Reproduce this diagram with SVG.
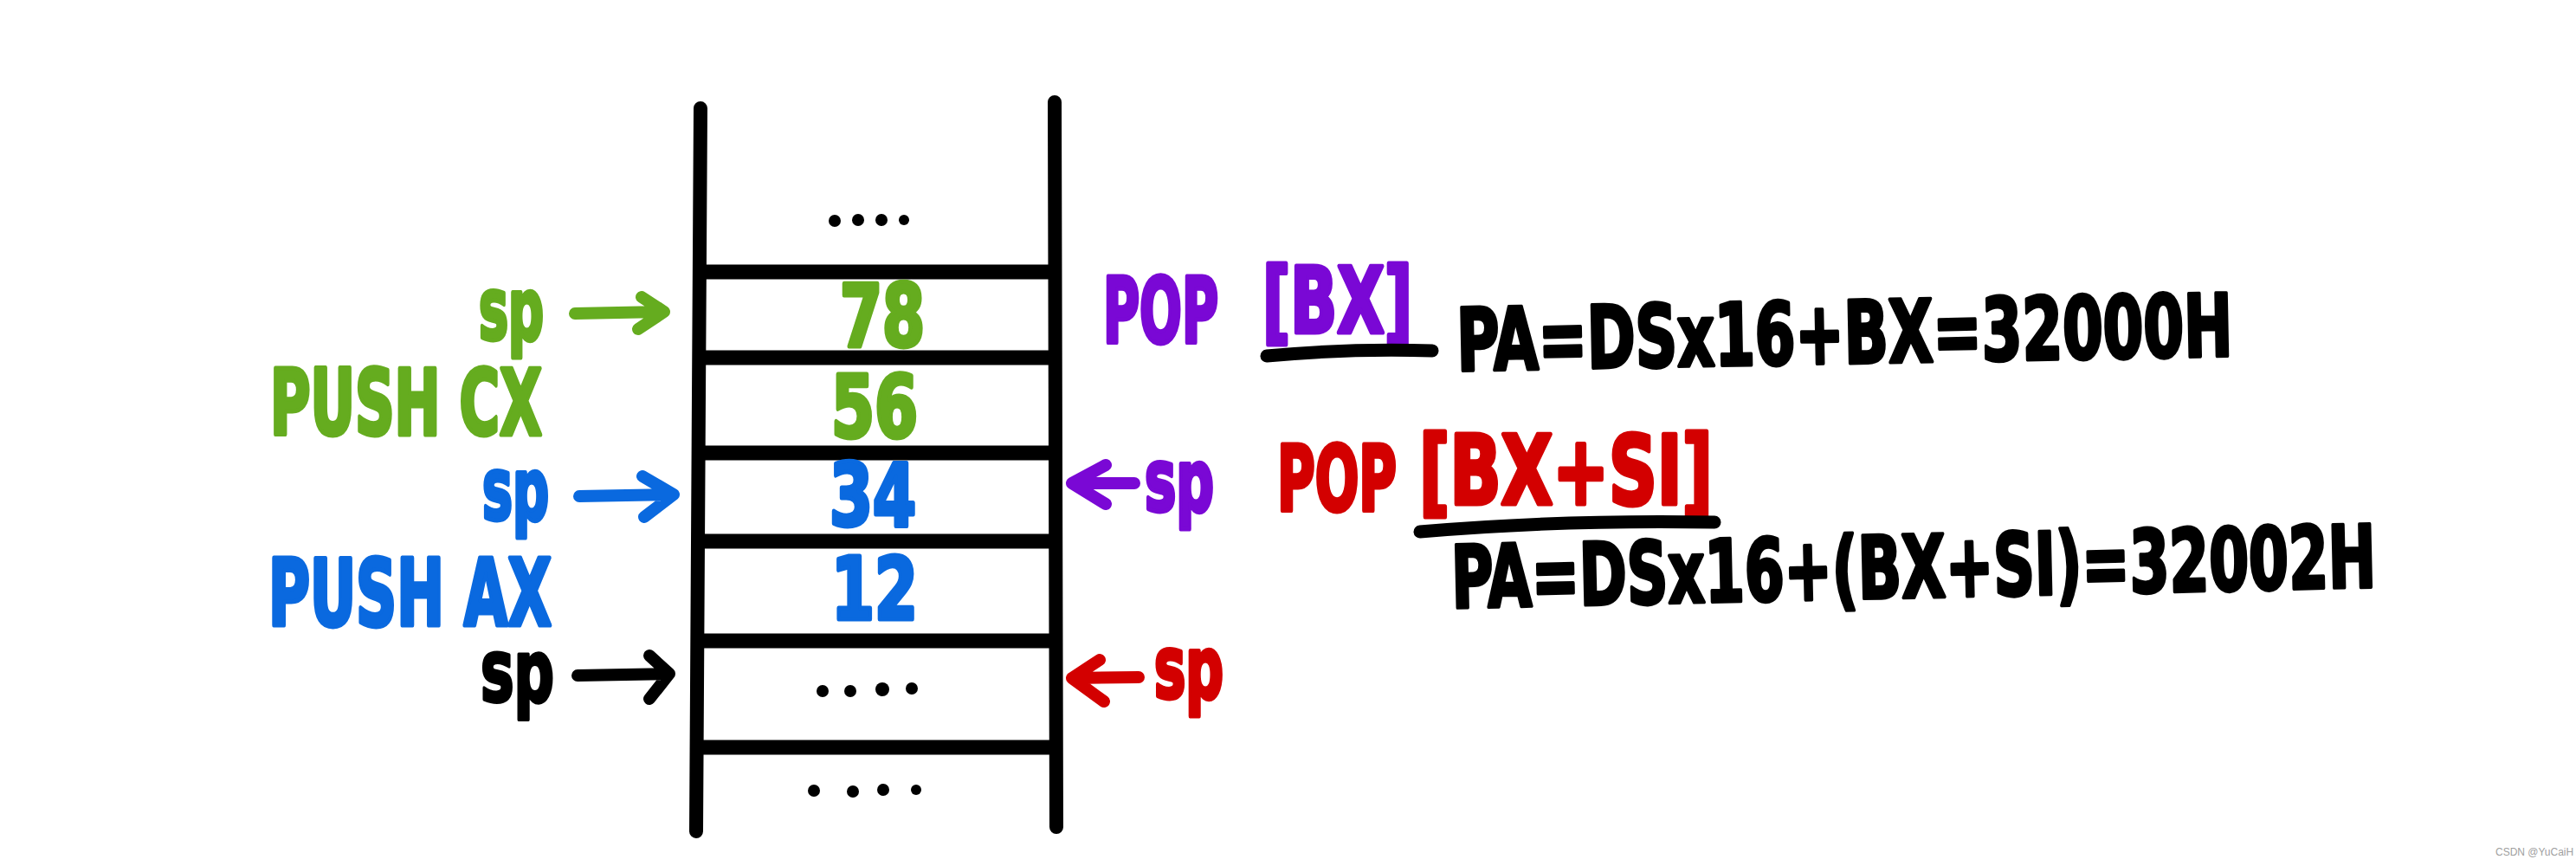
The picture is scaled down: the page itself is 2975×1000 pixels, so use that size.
<svg xmlns="http://www.w3.org/2000/svg" width="2975" height="1000" viewBox="0 0 2975 1000">
<style>
.t{font-family:"Liberation Sans Narrow","DejaVu Sans Condensed","Liberation Sans",sans-serif;font-weight:bold;stroke-linejoin:round;stroke-linecap:round;}
.g{fill:#65ac1f;stroke:#65ac1f;stroke-width:5}
.b{fill:#0a69df;stroke:#0a69df;stroke-width:5}
.p{fill:#7a08d5;stroke:#7a08d5;stroke-width:5}
.r{fill:#d30000;stroke:#d30000;stroke-width:5}
.k{fill:#000;stroke:#000;stroke-width:4}
.rail{stroke:#000;stroke-width:16;stroke-linecap:round;fill:none}
.rung{stroke:#000;stroke-width:17;fill:none}
.arr{fill:none;stroke-width:14;stroke-linecap:round;stroke-linejoin:round}
.ul{fill:none;stroke:#000;stroke-width:15;stroke-linecap:round}
.dot{fill:#000}
</style>
<rect width="2975" height="1000" fill="#fff"/>
<g id="stack">
<path class="rail" d="M809,125 L804,960"/>
<path class="rail" d="M1218,118 L1220,955"/>
<line class="rung" x1="809" y1="314" x2="1218" y2="314"/>
<line class="rung" x1="809" y1="413" x2="1218" y2="413"/>
<line class="rung" x1="808" y1="523" x2="1218" y2="523"/>
<line class="rung" x1="807" y1="625" x2="1219" y2="625"/>
<line class="rung" x1="806" y1="740" x2="1219" y2="740"/>
<line class="rung" x1="805" y1="863" x2="1219" y2="863"/>
</g>
<g id="cell-top">
<circle class="dot" cx="964" cy="255" r="7"/><circle class="dot" cx="991" cy="254" r="7"/><circle class="dot" cx="1018" cy="254" r="7"/><circle class="dot" cx="1044" cy="254" r="6"/>
</g>
<g id="cell-78"><text class="t g" x="1019" y="400" font-size="100" text-anchor="middle" textLength="98" lengthAdjust="spacingAndGlyphs">78</text></g>
<g id="cell-56"><text class="t g" x="1010" y="505" font-size="100" text-anchor="middle" textLength="100" lengthAdjust="spacingAndGlyphs">56</text></g>
<g id="cell-34"><text class="t b" x="1008" y="607" font-size="100" text-anchor="middle" textLength="100" lengthAdjust="spacingAndGlyphs">34</text></g>
<g id="cell-12"><text class="t b" x="1010" y="715" font-size="100" text-anchor="middle" textLength="100" lengthAdjust="spacingAndGlyphs">12</text></g>
<g id="cell-mid">
<circle class="dot" cx="950" cy="798" r="7"/><circle class="dot" cx="982" cy="798" r="7"/><circle class="dot" cx="1019" cy="796" r="8"/><circle class="dot" cx="1053" cy="795" r="7"/>
</g>
<g id="cell-bottom">
<circle class="dot" cx="940" cy="913" r="7"/><circle class="dot" cx="985" cy="914" r="7"/><circle class="dot" cx="1020" cy="912" r="7"/><circle class="dot" cx="1058" cy="912" r="6"/>
</g>
<g id="label-green-sp"><text class="t g" x="553" y="392" font-size="100" textLength="75" lengthAdjust="spacingAndGlyphs">sp</text></g>
<g id="label-push-cx"><text class="t g" x="312" y="502" font-size="105" textLength="314" lengthAdjust="spacingAndGlyphs">PUSH CX</text></g>
<g id="label-blue-sp"><text class="t b" x="557" y="600" font-size="100" textLength="77" lengthAdjust="spacingAndGlyphs">sp</text></g>
<g id="label-push-ax"><text class="t b" x="310" y="722" font-size="107" textLength="327" lengthAdjust="spacingAndGlyphs">PUSH AX</text></g>
<g id="label-black-sp"><text class="t k" x="555" y="810" font-size="100" textLength="85" lengthAdjust="spacingAndGlyphs">sp</text></g>
<g id="label-purple-sp"><text class="t p" x="1322" y="590" font-size="100" textLength="80" lengthAdjust="spacingAndGlyphs">sp</text></g>
<g id="label-red-sp"><text class="t r" x="1333" y="806" font-size="100" textLength="80" lengthAdjust="spacingAndGlyphs">sp</text></g>
<g id="instr-pop-bx">
<text class="t p" x="1274" y="396" font-size="105" textLength="133" lengthAdjust="spacingAndGlyphs">POP</text>
<text class="t p" x="1458" y="384" font-size="105" textLength="173" lengthAdjust="spacingAndGlyphs">[BX]</text>
<path class="ul" d="M1463,411 Q1560,402 1654,405"/>
</g>
<g id="formula-1"><text class="t k" x="1683" y="428" font-size="100" textLength="896" lengthAdjust="spacingAndGlyphs" transform="rotate(-1.1 1683 428)">PA=DSx16+BX=32000H</text></g>
<g id="instr-pop-bxsi">
<text class="t r" x="1475" y="590" font-size="105" textLength="138" lengthAdjust="spacingAndGlyphs">POP</text>
<text class="t r" x="1639" y="582" font-size="110" textLength="339" lengthAdjust="spacingAndGlyphs">[BX+SI]</text>
<path class="ul" d="M1640,614 Q1800,600 1980,603"/>
</g>
<g id="formula-2"><text class="t k" x="1677" y="702" font-size="100" textLength="1068" lengthAdjust="spacingAndGlyphs" transform="rotate(-1.3 1677 702)">PA=DSx16+(BX+SI)=32002H</text></g>
<g id="connectors">
<path class="arr" stroke="#65ac1f" d="M664,362 L767,360 M741,343 L767,360 L737,380"/>
<path class="arr" stroke="#0a69df" d="M669,573 L778,571 M742,550 L778,571 L744,597"/>
<path class="arr" stroke="#000" d="M667,780 L773,778 M750,757 L773,778 L750,807"/>
<path class="arr" stroke="#7a08d5" d="M1310,558 L1238,558 M1277,537 L1238,558 L1277,582"/>
<path class="arr" stroke="#d30000" d="M1315,782 L1238,783 M1270,762 L1238,783 L1275,810"/>
</g>
<text x="2882" y="988" font-family="Liberation Sans, sans-serif" font-size="12" fill="#a0a0a0">CSDN @YuCaiH</text>
</svg>
